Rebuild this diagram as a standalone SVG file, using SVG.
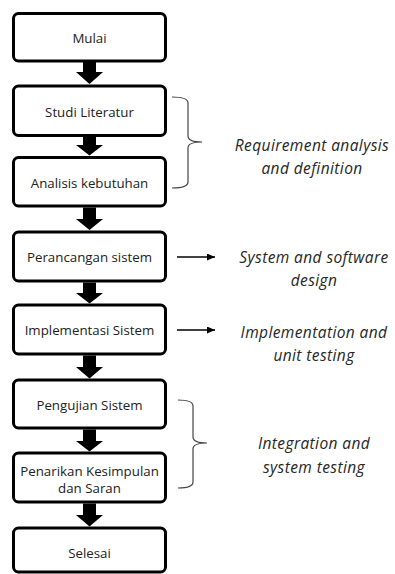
<svg xmlns="http://www.w3.org/2000/svg" width="395" height="574" viewBox="0 0 395 574">
<style>
.box{fill:#fff;stroke:#000;stroke-width:3}
.t{font-family:"Open Sans","Noto Sans",sans-serif;font-size:13.3px;fill:#222;text-anchor:middle;dominant-baseline:central}
.lab{font-family:"Open Sans","Noto Sans",sans-serif;font-size:15.5px;letter-spacing:0.4px;font-style:italic;fill:#262626;text-anchor:middle;dominant-baseline:central}
.blk{fill:#000}
.brace{fill:none;stroke:#444;stroke-width:1.2}
.ln{stroke:#000;stroke-width:1.4;fill:none}
</style>
<defs>
<marker id="ah" viewBox="0 0 10 10" refX="10" refY="5" markerWidth="8" markerHeight="7" markerUnits="userSpaceOnUse" orient="auto" preserveAspectRatio="none">
<path d="M0,0 L10,5 L0,10 Z" fill="#000"/>
</marker>
</defs>
<rect width="395" height="574" fill="#fff"/>
<g id="n1"><rect class="box" x="13.5" y="13.5" width="152" height="47.5" rx="5"/><text class="t" x="89.5" y="38">Mulai</text></g>
<g id="n2"><rect class="box" x="13.5" y="86" width="152" height="49.5" rx="5"/><text class="t" x="89.5" y="112">Studi Literatur</text></g>
<g id="n3"><rect class="box" x="13.5" y="157.5" width="152" height="48.5" rx="5"/><text class="t" x="89.5" y="183">Analisis kebutuhan</text></g>
<g id="n4"><rect class="box" x="13.5" y="232" width="152" height="49" rx="5"/><text class="t" x="89.5" y="257">Perancangan sistem</text></g>
<g id="n5"><rect class="box" x="13.5" y="305" width="152" height="49" rx="5"/><text class="t" x="89.5" y="330">Implementasi Sistem</text></g>
<g id="n6"><rect class="box" x="13.5" y="380" width="152" height="48" rx="5"/><text class="t" x="89.5" y="405">Pengujian Sistem</text></g>
<g id="n7"><rect class="box" x="13.5" y="453" width="152" height="49" rx="5"/><text class="t" x="89.5" y="471">Penarikan Kesimpulan</text><text class="t" x="89.5" y="487.5">dan Saran</text></g>
<g id="n8"><rect class="box" x="13.5" y="528" width="152" height="44" rx="5"/><text class="t" x="89.5" y="553">Selesai</text></g>
<g id="connectors">
<path class="blk" d="M83,62 H96 V72 H103 L89.5,84 L76,72 H83 Z"/>
<path class="blk" d="M83,137 H96 V145 H103 L89.5,155.5 L76,145 H83 Z"/>
<path class="blk" d="M83,207.5 H96 V219 H103 L89.5,230 L76,219 H83 Z"/>
<path class="blk" d="M83,282.5 H96 V293 H103 L89.5,303.5 L76,293 H83 Z"/>
<path class="blk" d="M83,355.5 H96 V367 H103 L89.5,378.5 L76,367 H83 Z"/>
<path class="blk" d="M83,429.5 H96 V441 H103 L89.5,451.5 L76,441 H83 Z"/>
<path class="blk" d="M83,503.5 H96 V515 H103 L89.5,526.5 L76,515 H83 Z"/>
<path class="brace" d="M172,97 Q188,97 188,103 V136 Q188,142 202,142 Q188,142 188,148 V182 Q188,188 172,188"/>
<path class="brace" d="M178,400 Q193,400 193,406 V437 Q193,443 207,443 Q193,443 193,449 V482 Q193,488 178,488"/>
<line class="ln" x1="177" y1="257" x2="215" y2="257" marker-end="url(#ah)"/>
<line class="ln" x1="177" y1="330" x2="215" y2="330" marker-end="url(#ah)"/>
</g>
<g id="labels">
<text class="lab" x="312" y="145">Requirement analysis</text>
<text class="lab" x="312" y="168">and definition</text>
<text class="lab" x="314" y="257">System and software</text>
<text class="lab" x="314" y="280">design</text>
<text class="lab" x="314" y="332">Implementation and</text>
<text class="lab" x="314" y="355">unit testing</text>
<text class="lab" x="314" y="443">Integration and</text>
<text class="lab" x="314" y="467">system testing</text>
</g>
</svg>
